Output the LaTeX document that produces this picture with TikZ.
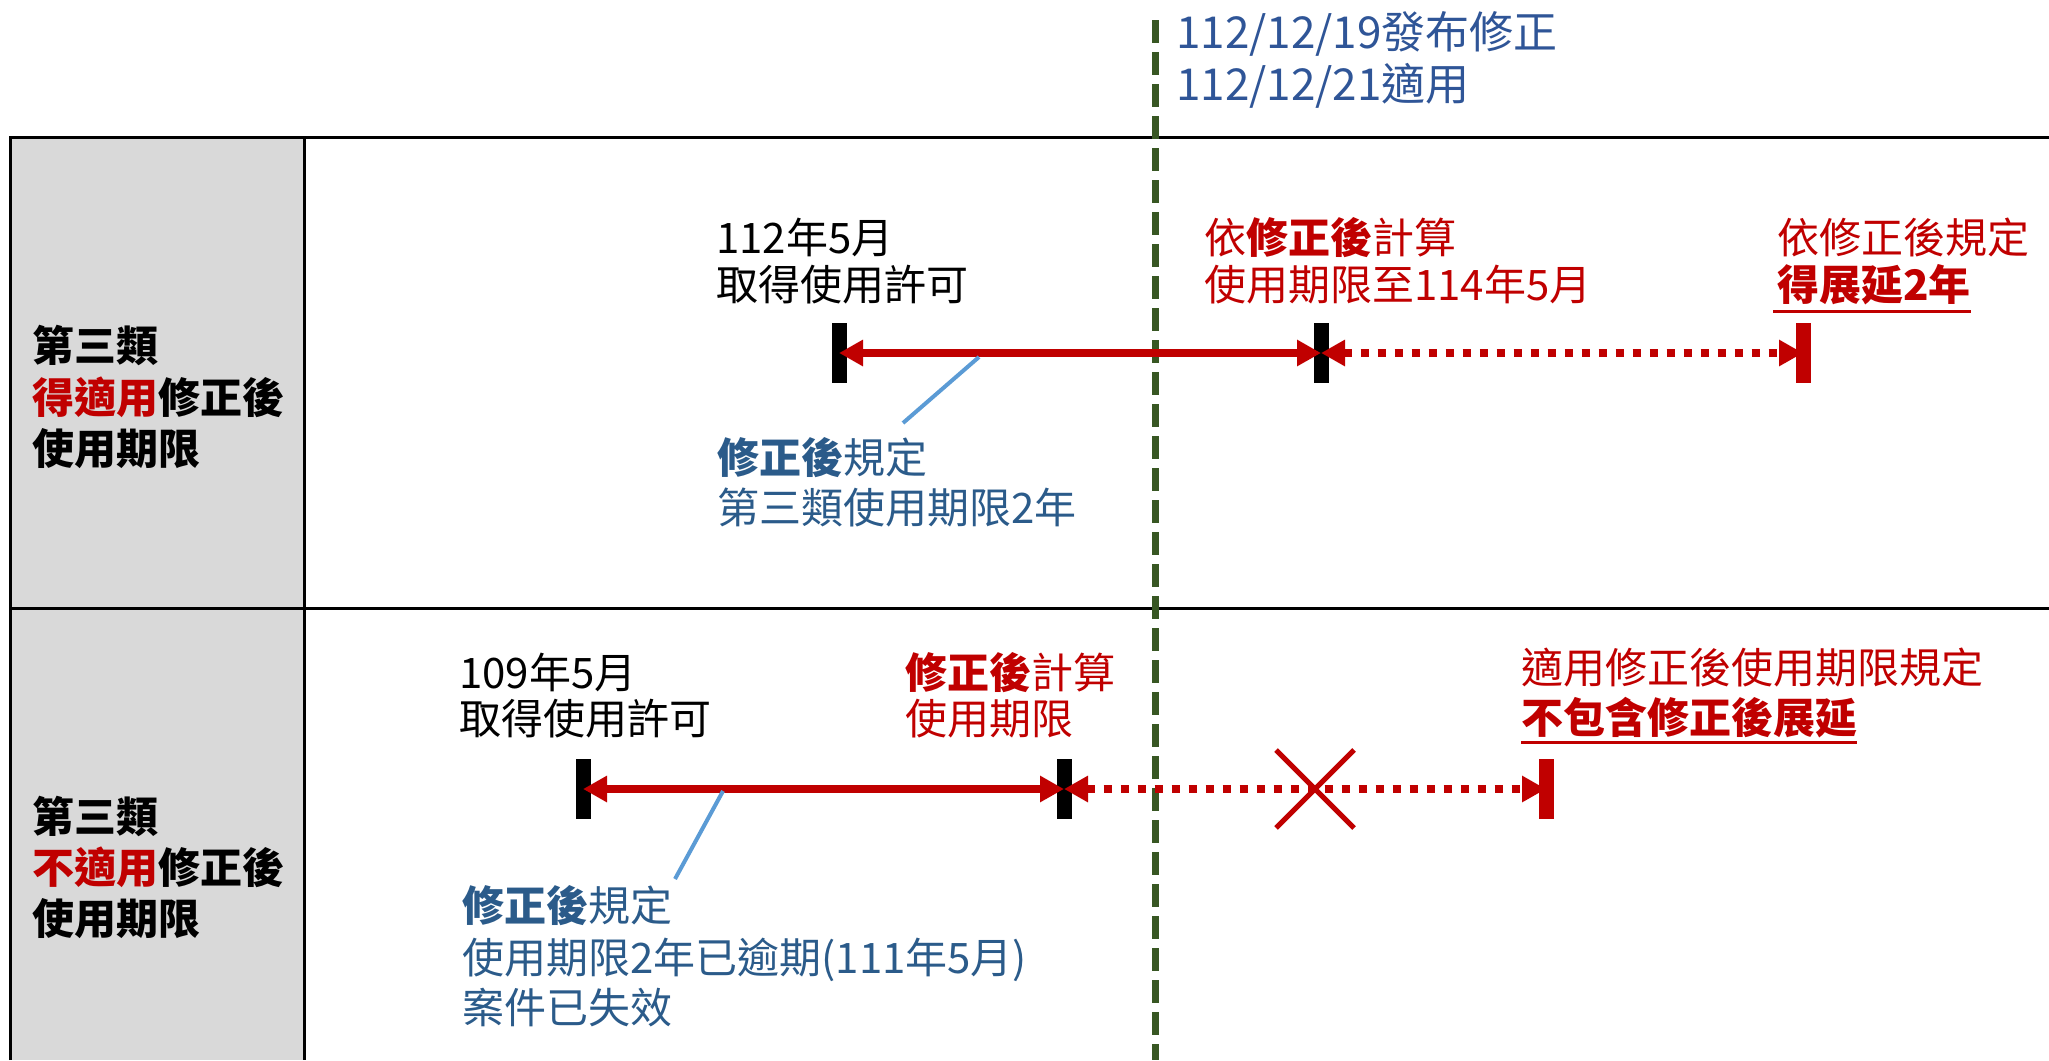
\documentclass[tikz,border=0pt]{standalone}
\usepackage{fontspec}
\setmainfont{Noto Sans CJK TC}
\usetikzlibrary{arrows.meta}
\definecolor{myred}{HTML}{C00000}
\definecolor{titleblue}{HTML}{2F5597}
\definecolor{noteblue}{HTML}{2B5B8A}
\definecolor{callline}{HTML}{5B9BD5}
\definecolor{dgreen}{HTML}{385723}
\definecolor{headgray}{HTML}{D9D9D9}
\begin{document}
\begin{tikzpicture}[x=1pt,y=-1pt,
  txt/.style={anchor=west, inner sep=0pt, font=\fontsize{42}{46}\selectfont, text height=37pt, text depth=5pt},
  ttl/.style={anchor=west, inner sep=0pt, font=\fontsize{44}{50}\selectfont, text height=39pt, text depth=5pt, text=titleblue},
  side/.style={anchor=west, inner sep=0pt, font=\fontsize{42}{46}\selectfont\bfseries, text height=37pt, text depth=5pt},
  bar/.style={minimum width=15pt, minimum height=60pt, inner sep=0pt, draw=none, fill=#1},
  arr/.style={myred, line width=8pt, arrows={Triangle[length=24pt,width=25pt]-Triangle[length=24pt,width=25pt]}},
  dotarr/.style={arr, dash pattern=on 8pt off 9pt},
  callout/.style={callline, line width=4pt},
  tableline/.style={black, line width=3pt},
  uline/.style={myred, line width=3pt}
]
\useasboundingbox (0,0) rectangle (2049,1060);
% table
\fill[headgray] (10,137) rectangle (304,1060);
\draw[tableline] (10,1060) -- (10,137) -- (2049,137);
\draw[tableline] (10,608) -- (2049,608);
\draw[tableline] (304,137) -- (304,1060);
% date line
\draw[dgreen, line width=7pt, dash pattern=on 23pt off 9pt] (1155,20) -- (1155,1060);
\node[ttl] (t1) at (1176,31) {112/12/19發布修正};
\node[ttl] (t2) at (1176,83) {112/12/21適用};
% side labels
\node[side] (s1) at (32,345) {第三類};
\node[side] (s2) at (32,397) {\textcolor{myred}{得適用}修正後};
\node[side] (s3) at (32,448) {使用期限};
\node[side] (s4) at (32,816) {第三類};
\node[side] (s5) at (32,867) {\textcolor{myred}{不適用}修正後};
\node[side] (s6) at (32,918) {使用期限};
% row 1
\node[bar=black] (b11) at (839,353) {};
\node[bar=black] (b12) at (1321,353) {};
\node[bar=myred] (r1) at (1803,353) {};
\draw[arr] (b11.center) -- (b12.center);
\draw[dotarr] (b12.center) -- (r1.center);
\node[txt] (a1) at (716,237) {112年5月};
\node[txt] (a2) at (716,284) {取得使用許可};
\node[txt,text=myred] (b1) at (1204,237) {依\textbf{修正後}計算};
\node[txt,text=myred] (b2) at (1204,284) {使用期限至114年5月};
\node[txt,text=myred] (c1) at (1777,237) {依修正後規定};
\node[txt,text=myred] (c2) at (1777,284) {\textbf{得展延2年}};
\draw[uline] ([xshift=-4pt,yshift=-6pt]c2.south west) -- ([yshift=-6pt]c2.south east);
\coordinate (k1a) at (979,357);
\coordinate (k1b) at (903,423);
\draw[callout] (k1a) -- (k1b);
\node[txt,text=noteblue] (d1) at (717,457) {\textbf{修正後}規定};
\node[txt,text=noteblue] (d2) at (717,507) {第三類使用期限2年};
% row 2
\node[bar=black] (b21) at (583,789) {};
\node[bar=black] (b22) at (1064,789) {};
\node[bar=myred] (r2) at (1546,789) {};
\draw[arr] (b21.center) -- (b22.center);
\draw[dotarr] (b22.center) -- (r2.center);
\coordinate (xm) at (1315,789);
\draw[myred, line width=5pt] ([xshift=-39pt,yshift=39pt]xm) -- ([xshift=39pt,yshift=-39pt]xm);
\draw[myred, line width=5pt] ([xshift=-39pt,yshift=-39pt]xm) -- ([xshift=39pt,yshift=39pt]xm);
\node[txt] (e1) at (459,672) {109年5月};
\node[txt] (e2) at (459,718) {取得使用許可};
\node[txt,text=myred] (f1) at (905,672) {\textbf{修正後}計算};
\node[txt,text=myred] (f2) at (905,718) {使用期限};
\node[txt,text=myred] (g1) at (1521,667) {適用修正後使用期限規定};
\node[txt,text=myred] (g2) at (1521,717) {\textbf{不包含修正後展延}};
\draw[uline] ([yshift=-4pt]g2.south west) -- ([yshift=-4pt]g2.south east);
\coordinate (k2a) at (723,791);
\coordinate (k2b) at (675,879);
\draw[callout] (k2a) -- (k2b);
\node[txt,text=noteblue] (h1) at (462,905) {\textbf{修正後}規定};
\node[txt,text=noteblue] (h2) at (462,957) {使用期限2年已逾期(111年5月)};
\node[txt,text=noteblue] (h3) at (462,1007) {案件已失效};
\end{tikzpicture}
\end{document}
